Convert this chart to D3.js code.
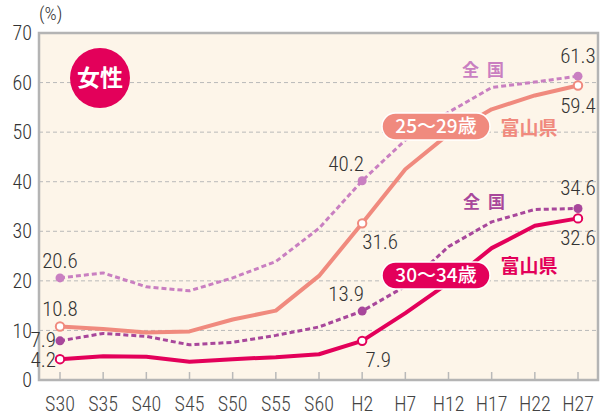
<!DOCTYPE html>
<html><head><meta charset="utf-8">
<script src="https://cdn.jsdelivr.net/npm/d3@7"></script>
<style>
body{margin:0;background:#fff;}
svg{display:block;}
text.num{font-family:Roboto,sans-serif;font-stretch:condensed;font-weight:300;}
</style></head>
<body><svg id="c" width="609" height="418"></svg>
<script>
const categories = ["S30","S35","S40","S45","S50","S55","S60","H2","H7","H12","H17","H22","H27"];
const national2529 = [20.6,21.6,18.8,18.0,20.6,23.9,30.6,40.2,48.4,54.0,59.0,60.1,61.3];
const toyama2529   = [10.8,10.3,9.6,9.8,12.2,14.0,21.0,31.6,42.5,49.6,54.6,57.4,59.4];
const national3034 = [7.9,9.4,8.8,7.1,7.6,9.0,10.7,13.9,18.9,26.9,31.9,34.4,34.6];
const toyama3034   = [4.2,4.8,4.7,3.7,4.2,4.6,5.2,7.9,13.5,19.6,26.6,31.1,32.6];
const yTicks = [0,10,20,30,40,50,60,70];
const markIdx = [0,7,12];

const svg = d3.select("#c");
const L=39,R=598,T=33,B=380;
const x = d3.scalePoint().domain(categories).range([60,578]);
const y = d3.scaleLinear().domain([0,70]).range([B,T]);
const jpFont = "'Noto Sans CJK JP',sans-serif";

svg.append("rect").attr("x",L).attr("y",T).attr("width",R-L).attr("height",B-T)
  .attr("fill","#fdf5e9");
// grid
svg.append("g").selectAll("line").data(yTicks.filter(d=>d>0&&d<70)).join("line")
  .attr("x1",L).attr("x2",R).attr("y1",d=>y(d)).attr("y2",d=>y(d))
  .attr("stroke","#b9b9b9").attr("stroke-width",1).attr("stroke-dasharray","4,3");
// x ticks
svg.append("g").selectAll("line").data(categories).join("line")
  .attr("x1",d=>x(d)).attr("x2",d=>x(d)).attr("y1",B-8).attr("y2",B)
  .attr("stroke","#b9b9b9").attr("stroke-width",1.5);
// frame
svg.append("rect").attr("x",L).attr("y",T).attr("width",R-L).attr("height",B-T)
  .attr("fill","none").attr("stroke","#b4b4b4").attr("stroke-width",2.5);

// y labels
svg.append("g").selectAll("text").data(yTicks).join("text").attr("class","num")
  .attr("x",32).attr("y",d=>y(d)).attr("dy","0.36em").attr("text-anchor","end")
  .attr("font-size",20).attr("fill","#333").text(d=>d);
svg.append("text").attr("class","num").attr("x",39).attr("y",20).attr("font-size",19)
  .attr("fill","#333").text("(%)");
// x labels
svg.append("g").selectAll("text").data(categories).join("text").attr("class","num")
  .attr("x",d=>x(d)).attr("y",404).attr("dy","0.35em").attr("text-anchor","middle")
  .attr("font-size",20).attr("fill","#444").text(d=>d);

const line = d3.line().x((d,i)=>x(categories[i])).y(d=>y(d));
function drawSeries(vals,color,dotted,filled){
  svg.append("path").datum(vals).attr("d",line).attr("fill","none")
    .attr("stroke",color).attr("stroke-width",dotted?3:4)
    .attr("stroke-dasharray",dotted?"5,3":null).attr("stroke-linejoin","round");
  svg.append("g").selectAll("circle").data(markIdx).join("circle")
    .attr("cx",i=>x(categories[i])).attr("cy",i=>y(vals[i])).attr("r",filled?4.5:4.2)
    .attr("fill",filled?color:"#fff").attr("stroke",color).attr("stroke-width",filled?0:2);
}
const cN1="#c97fc1", cT1="#f08a7e", cN2="#a8479b", cT2="#e3005a";
drawSeries(national2529,cN1,true,true);
drawSeries(national3034,cN2,true,true);
drawSeries(toyama2529,cT1,false,false);
drawSeries(toyama3034,cT2,false,false);

// value labels
function vlabel(v,xx,yy,anchor){
  svg.append("text").attr("class","num").attr("x",xx).attr("y",yy).attr("text-anchor",anchor||"middle")
    .attr("font-size",21).attr("fill","#333").text(v.toFixed(1));
}
const x0=x(categories[0]), x7=x(categories[7]), x12=x(categories[12]);
vlabel(national2529[0],x0,y(national2529[0])-10);
vlabel(toyama2529[0],x0,y(toyama2529[0])-10);
vlabel(national3034[0],x0-4,y(national3034[0])+6,"end");
vlabel(toyama3034[0],x0-4,y(toyama3034[0])+8,"end");
vlabel(national2529[7],x7-16,y(national2529[7])-10);
vlabel(toyama2529[7],x7+18,y(toyama2529[7])+26);
vlabel(national3034[7],x7-16,y(national3034[7])-10);
vlabel(toyama3034[7],x7+16,y(toyama3034[7])+26);
vlabel(national2529[12],x12,y(national2529[12])-13);
vlabel(toyama2529[12],x12,y(toyama2529[12])+27);
vlabel(national3034[12],x12,y(national3034[12])-13);
vlabel(toyama3034[12],x12,y(toyama3034[12])+27);

// legends
function pill(cx,cy,w,h,color,label){
  svg.append("rect").attr("x",cx-w/2).attr("y",cy-h/2).attr("width",w).attr("height",h)
    .attr("rx",h/2).attr("fill",color).attr("stroke","#fff").attr("stroke-width",1.5);
  svg.append("text").attr("x",cx).attr("y",cy).attr("dy","0.36em").attr("text-anchor","middle")
    .attr("font-family",jpFont).attr("font-size",19).attr("font-weight",500).attr("fill","#fff").text(label);
}
function jtext(xx,yy,size,color,t,ls){
  svg.append("text").attr("x",xx).attr("y",yy).attr("dy","0.36em").attr("text-anchor","middle")
    .attr("font-family",jpFont).attr("font-size",size).attr("font-weight",700)
    .attr("letter-spacing",ls||0).attr("fill",color).text(t);
}
pill(436,126.5,108,27,cT1,"25〜29歳");
jtext(529,128,19,cT1,"富山県");
jtext(484,70,17,cN1,"全 国",2);
pill(436,275.5,108,27,cT2,"30〜34歳");
jtext(529,266,19,cT2,"富山県");
jtext(485,202,17,cN2,"全 国",2);

// badge
svg.append("circle").attr("cx",100).attr("cy",78).attr("r",30).attr("fill",cT2);
svg.append("text").attr("x",100).attr("y",78).attr("dy","0.36em").attr("text-anchor","middle")
  .attr("font-family",jpFont).attr("font-size",23).attr("font-weight",700).attr("fill","#fff").text("女性");
</script></body></html>
